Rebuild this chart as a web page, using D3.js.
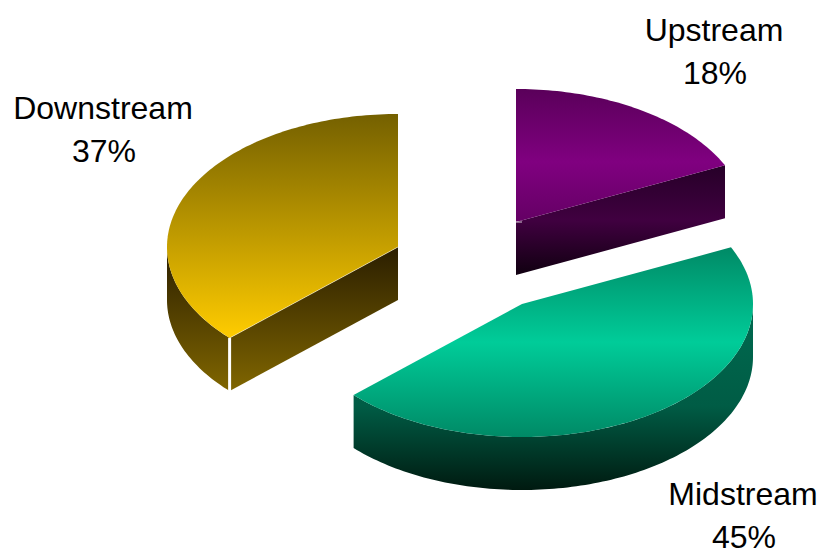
<!DOCTYPE html>
<html>
<head>
<meta charset="utf-8">
<script src="https://cdn.jsdelivr.net/npm/d3@7"></script>
<style>
  html, body { margin: 0; padding: 0; background: #fff; }
  text { font-family: "Liberation Sans", Arial, sans-serif; fill: #000; }
</style>
</head>
<body>
<svg id="chart" width="823" height="556"></svg>
<script>
// Value chain shares
const sectors = ["Upstream", "Midstream", "Downstream"];
const shares = [18, 45, 37];

// Drawing setup for each wedge, in the same order as the sectors
const apexX = [516, 522, 398];
const apexY = [222, 304, 247];
const labelX = [714, 743, 103];
const labelY = [41, 505, 119];
const topStops = [
  [[0, "#5a005a"], [0.55, "#800080"], [1, "#640064"]],
  [[0, "#008a66"], [0.5, "#00cc99"], [1, "#008a66"]],
  [[0, "#746000"], [1, "#ffcc00"]]
];
const sideStops = [
  [[0, "#260028"], [0.5, "#400040"], [1, "#100010"]],
  [[0, "#006a50"], [0.55, "#005c45"], [1, "#001a10"]],
  [[0, "#2a1e00"], [1, "#806600"]]
];

const radiusX = 231, radiusY = 133, depth = 53;
const fontSize = 32, lineGap = 43;

const svg = d3.select("#chart");
const defs = svg.append("defs");

function gradient(id, stops) {
  const g = defs.append("linearGradient").attr("id", id)
    .attr("x1", 0).attr("y1", 0).attr("x2", 0).attr("y2", 1);
  stops.forEach(s => g.append("stop").attr("offset", s[0]).attr("stop-color", s[1]));
  return `url(#${id})`;
}

const wedges = d3.pie().sort(null).value(d => d)(shares);

// Flatten the unit circle into the tilted ellipse of the pie top
const projX = d3.scaleLinear().domain([-1, 1]).range([-radiusX, radiusX]);
const projY = d3.scaleLinear().domain([-1, 1]).range([-radiusY, radiusY]);
const line = d3.line();

function rimPoints(a0, a1, cx, cy) {
  const n = Math.max(2, Math.ceil(Math.abs(a1 - a0) / 0.02));
  return d3.range(n + 1).map(i => {
    const a = a0 + (a1 - a0) * i / n;
    return [cx + projX(Math.sin(a)), cy + projY(-Math.cos(a))];
  });
}
const drop = pts => pts.map(p => [p[0], p[1] + depth]).reverse();

// Wall below the section of rim between two angles
function wall(a0, a1, cx, cy) {
  const rim = rimPoints(a0, a1, cx, cy);
  return line(rim.concat(drop(rim))) + "Z";
}
// Flat face below a cut running from the apex out to the rim
function cutFace(a, cx, cy) {
  const edge = [[cx, cy], rimPoints(a, a, cx, cy)[0]];
  return line(edge.concat(drop(edge))) + "Z";
}

// Back to front, so the nearest wedge is painted last
[2, 0, 1].forEach(i => {
  const w = wedges[i], cx = apexX[i], cy = apexY[i];
  const g = svg.append("g").attr("class", sectors[i].toLowerCase());
  const sideFill = gradient("side" + i, sideStops[i]);

  const lo = Math.max(w.startAngle, Math.PI / 2);
  const hi = Math.min(w.endAngle, Math.PI * 1.5);
  if (hi > lo) g.append("path").attr("d", wall(lo, hi, cx, cy)).attr("fill", sideFill);
  if (Math.sin(w.endAngle) > 1e-6) g.append("path").attr("d", cutFace(w.endAngle, cx, cy)).attr("fill", sideFill);
  if (Math.sin(w.startAngle) < -1e-6) g.append("path").attr("d", cutFace(w.startAngle, cx, cy)).attr("fill", sideFill);

  const top = [[cx, cy]].concat(rimPoints(w.startAngle, w.endAngle, cx, cy));
  g.append("path").attr("d", line(top) + "Z").attr("fill", gradient("top" + i, topStops[i]));

  // Pale seams left between the faces of the wedge
  if (Math.sin(w.startAngle) < -1e-6) {
    const p = rimPoints(w.startAngle, w.startAngle, cx, cy)[0];
    g.append("path").attr("d", line([p, [p[0], p[1] + depth]]))
      .attr("stroke", "#fff").attr("stroke-width", 3).attr("fill", "none");
    g.append("path").attr("d", line([p, [cx, cy]]))
      .attr("stroke", "#fff").attr("stroke-width", 0.8).attr("stroke-opacity", 0.6).attr("fill", "none");
  }
  if (Math.sin(w.endAngle) > 1e-6) {
    g.append("path").attr("d", line([[cx, cy], [cx + 6, cy]]))
      .attr("stroke", "#fff").attr("stroke-width", 1).attr("stroke-opacity", 0.8).attr("fill", "none");
  }

  const label = svg.append("text").attr("text-anchor", "middle").attr("font-size", fontSize);
  label.append("tspan").attr("x", labelX[i]).attr("y", labelY[i]).text(sectors[i]);
  label.append("tspan").attr("x", labelX[i] + 1).attr("y", labelY[i] + lineGap).text(shares[i] + "%");
});
</script>
</body>
</html>
